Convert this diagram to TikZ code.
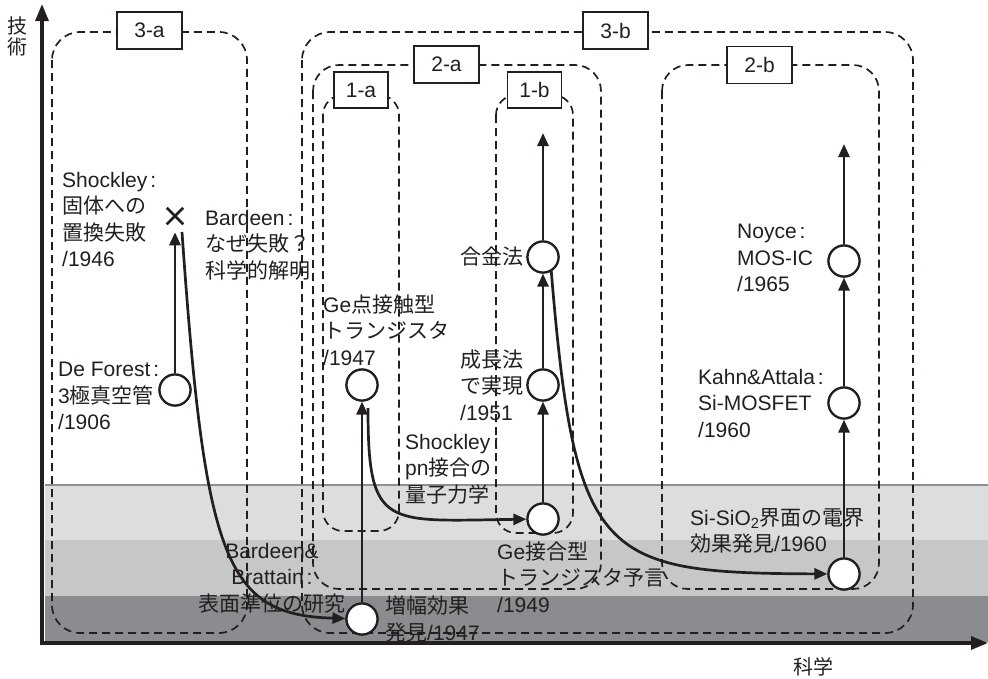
\documentclass[tikz,border=0pt]{standalone}
\usepackage{fontspec}
\setmainfont{Liberation Sans}
\newfontfamily\jp{Noto Sans CJK JP}
\usetikzlibrary{arrows.meta,shapes.misc,calc}
\definecolor{ink}{HTML}{231F20}
\definecolor{bandA}{HTML}{DCDDDF}
\definecolor{bandB}{HTML}{C6C7C9}
\definecolor{bandC}{HTML}{8B8C8F}
\definecolor{bandLine}{HTML}{8E8F91}
\newcommand{\cl}{\hspace{3pt}:}
\begin{document}
\begin{tikzpicture}[x=1pt,y=-1pt,
  grp/.style={draw=ink,line width=1.7pt,dash pattern=on 8pt off 5pt,rounded corners=#1},
  grp/.default=28pt,
  tag/.style={draw=ink,fill=white,line width=1.8pt,minimum width=65pt,minimum height=37pt,inner sep=0pt,text=ink,font=\fontsize{21}{24}\selectfont},
  smalltag/.style={tag,minimum width=54pt,minimum height=36pt},
  ev/.style={circle,draw=ink,fill=white,line width=2.2pt,minimum size=31pt,inner sep=0pt},
  arr/.style={draw=ink,line width=2.7pt,-{Triangle[width=11pt,length=13pt]}},
  axisline/.style={draw=ink,line width=3.2pt,-{Triangle[width=13pt,length=17pt]}},
  lab/.style={font=\fontsize{21}{26.5}\selectfont,align=left,inner sep=0pt,text=ink},
  clab/.style={lab,align=center},
  fail/.style={draw=ink,cross out,line width=2.5pt,minimum size=14pt,inner sep=0pt}
]
\useasboundingbox (0,0) rectangle (988,678);
% bands
\fill[bandA] (45,485) rectangle (988,540);
\fill[bandB] (45,540) rectangle (988,596);
\fill[bandC] (45,596) rectangle (988,642);
\draw[bandLine,line width=2.4pt] (45,485) -- (988,485);
% axes
\coordinate (O) at (42,643);
\coordinate (ytip) at (42,4);
\coordinate (xtip) at (988,643);
\draw[axisline] (O) -- (ytip);
\draw[axisline] ($(O)+(-1.6,0)$) -- (xtip);
\node[lab,font=\jp\fontsize{20}{21}\selectfont,align=center] (ylab) at (18,36) {技\\術};
\node[lab,font=\jp\fontsize{20}{21}\selectfont] (xlab) at (813,667) {科学};
% group boxes
\draw[grp] (52,32) rectangle (247,633);
\draw[grp] (302,32) rectangle (913,633);
\draw[grp=26pt] (313,65) rectangle (601,589);
\draw[grp=20pt] (323,95) rectangle (399,531);
\draw[grp=20pt] (496,95) rectangle (573,533);
\draw[grp=26pt] (662,65) rectangle (879,589);
\node[tag] (t3a) at (149.5,30.5) {3-a};
\node[tag] (t3b) at (615.5,30.5) {3-b};
\node[tag] (t2a) at (446.5,64.5) {2-a};
\node[tag] (t2b) at (759.5,65) {2-b};
\node[smalltag] (t1a) at (361,90) {1-a};
\node[smalltag] (t1b) at (534.5,90) {1-b};
% events
\node[fail] (cx) at (175,216) {};
\node[ev] (cdf) at (175,390) {};
\node[ev] (cgp) at (362,385) {};
\node[ev] (camp) at (362,619) {};
\node[ev] (calloy) at (543,257) {};
\node[ev] (cgrow) at (543,385) {};
\node[ev] (cgej) at (543,519) {};
\node[ev] (cnoyce) at (844,261) {};
\node[ev] (ckahn) at (844,403) {};
\node[ev] (csi) at (844,574) {};
\coordinate (s1) at (182,232);
\coordinate (s2) at (368,408);
\coordinate (s3) at (551,268);
\coordinate (e1) at (543,133);
\coordinate (e2) at (844,144);
% connectors
\draw[arr,shorten >=8pt] (cdf) -- (cx.south);
\draw[arr] (s1) .. controls (205,560) and (225,615) .. (camp);
\draw[arr] (camp) -- (cgp);
\draw[arr] (s2) .. controls (368,530) and (385,521) .. (cgej);
\draw[arr] (cgej) -- (cgrow);
\draw[arr] (cgrow) -- (calloy);
\draw[arr] (calloy) -- (e1);
\draw[arr] (s3) .. controls (575,560) and (600,573) .. (csi);
\draw[arr] (csi) -- (ckahn);
\draw[arr] (ckahn) -- (cnoyce);
\draw[arr] (cnoyce) -- (e2);
% redraw circles on top
\foreach \n in {cdf,cgp,camp,calloy,cgrow,cgej,cnoyce,ckahn,csi}{
  \draw[ink,line width=2.2pt,fill=white] (\n) circle (15.5pt);
}
% texts
\node[lab,anchor=west] (tshock) at (62,219.5) {Shockley\cl\\{\jp 固体への}\\{\jp 置換失敗}\\/1946};
\node[lab,anchor=west] (tbard) at (205,245) {Bardeen\cl\\{\jp なぜ失敗？}\\{\jp 科学的解明}};
\node[lab,anchor=west] (tdf) at (58,396) {De Forest\cl\\3{\jp 極真空管}\\/1906};
\node[lab,anchor=west] (tgp) at (323,330) {Ge{\jp 点接触型}\\{\jp トランジスタ}\\/1947};
\node[lab,anchor=west] (tgrow) at (460,385) {{\jp 成長法}\\{\jp で実現}\\/1951};
\node[lab,anchor=east] (talloy) at (524,257) {{\jp 合金法}};
\node[lab,anchor=west] (tpn) at (405,469) {Shockley\cl\\pn{\jp 接合の}\\{\jp 量子力学}};
\node[lab,anchor=west] (tgej) at (497,577) {Ge{\jp 接合型}\\{\jp トランジスタ予言}\\/1949};
\node[clab] (tbb) at (272,578) {Bardeen\&\\Brattain\cl\\{\jp 表面準位の研究}};
\node[lab,anchor=west] (tamp) at (385,619) {{\jp 増幅効果}\\{\jp 発見}/1947};
\node[lab,anchor=west] (tsi) at (690,531) {Si-SiO\textsubscript{2}{\jp 界面の電界}\\{\jp 効果発見}/1960};
\node[lab,anchor=west] (tkahn) at (698,403) {Kahn\&Attala\cl\\Si-MOSFET\\/1960};
\node[lab,anchor=west] (tnoyce) at (737,258) {Noyce\cl\\MOS-IC\\/1965};
\end{tikzpicture}
\end{document}
